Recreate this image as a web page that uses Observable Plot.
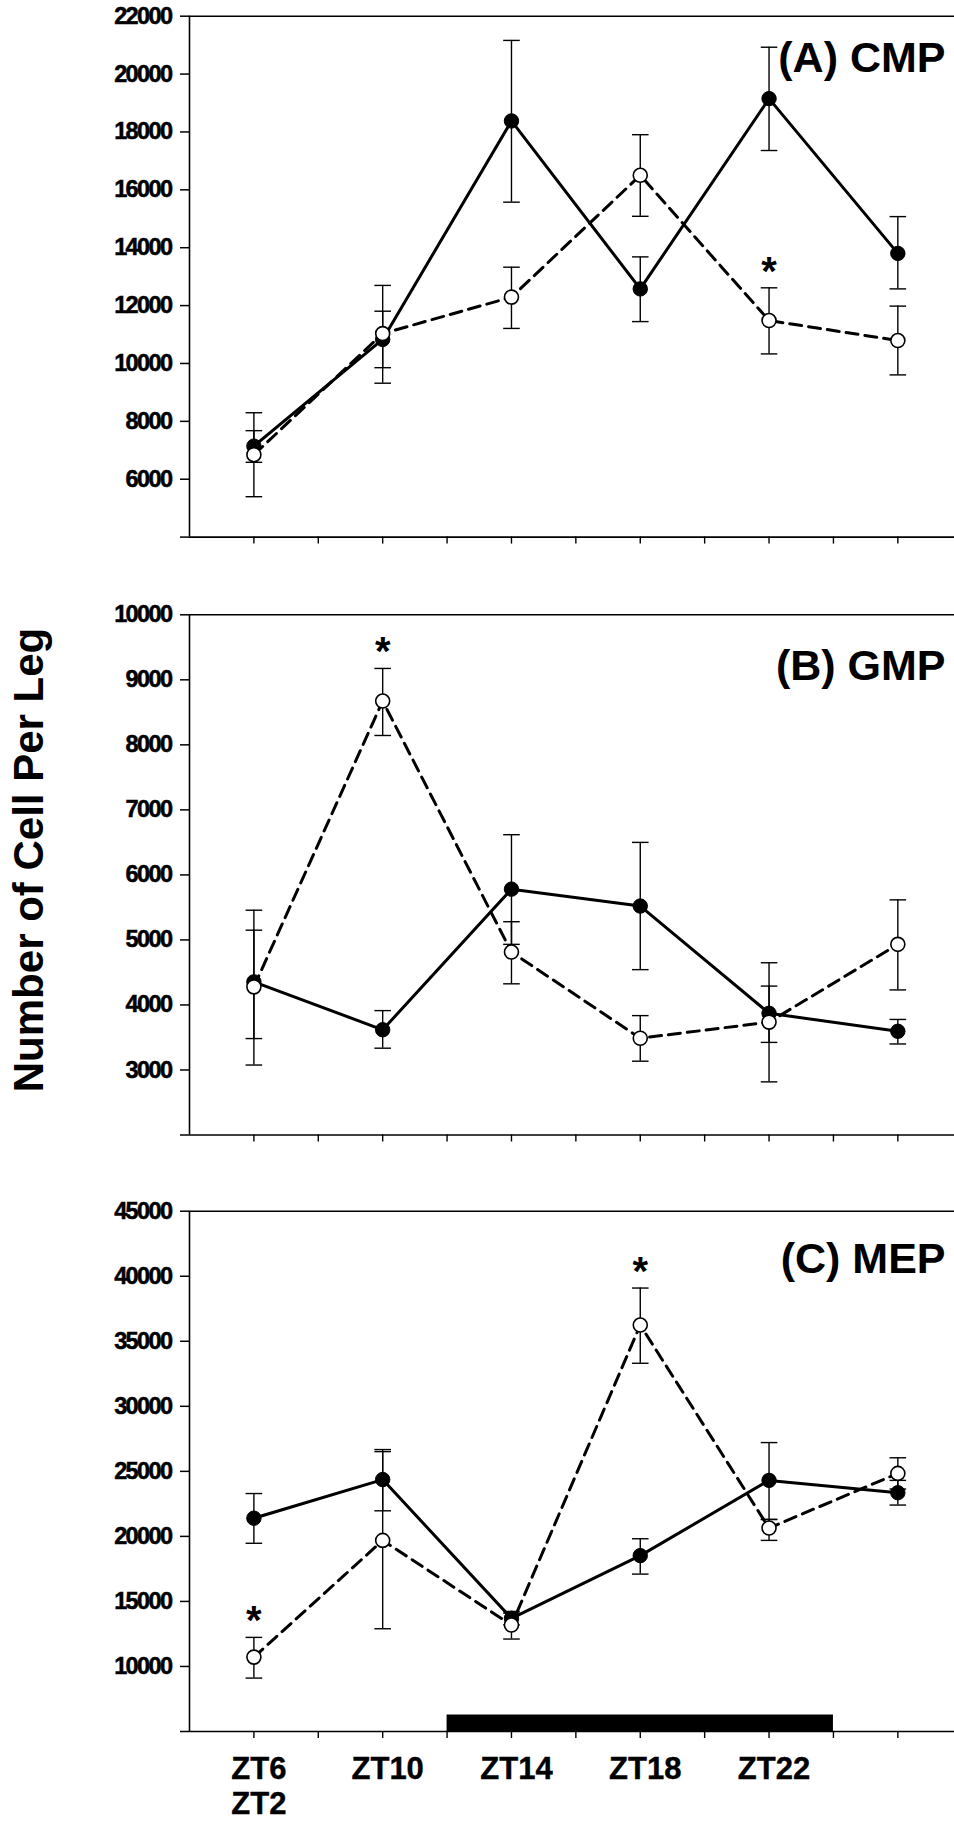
<!DOCTYPE html>
<html>
<head>
<meta charset="utf-8">
<script src="https://cdn.jsdelivr.net/npm/d3@7"></script>
<script src="https://cdn.jsdelivr.net/npm/@observablehq/plot@0.6"></script>
<style>
html, body { margin: 0; padding: 0; background: #fff; }
#chart { position: relative; width: 954px; height: 1824px; overflow: hidden; font-family: "Liberation Sans", Arial, sans-serif; }
#chart svg { display: block; }
#chart [aria-label="y-axis tick label"] text { letter-spacing: -1.6px; stroke: #000; stroke-width: 0.5px; }
#chart [aria-label="x-axis tick label"] text { stroke: #000; stroke-width: 0.4px; }
#ytitle {
  position: absolute; left: 0; top: 0; transform-origin: 0 0;
  transform: translate(7.8px, 860px) rotate(-90deg) translateX(-50%);
  font: bold 42px "Liberation Sans", Arial, sans-serif; line-height: 1;
  white-space: nowrap; color: #000;
}
</style>
</head>
<body>
<div id="chart"><div id="ytitle">Number of Cell Per Leg</div></div>
<script>
// ---- shared x data ----
const hours = [6, 10, 14, 18, 22, 26];
const xTickLabels = ["ZT6\nZT2", "ZT10", "ZT14", "ZT18", "ZT22", ""];
const minorHours = [6, 8, 10, 12, 14, 16, 18, 20, 22, 24, 26];
const xDomain = [4, 27.76];
const darkPeriod = [{start: 12, end: 24}];

// ---- (A) CMP ----
const cmpClosed   = [7144, 10830, 18381, 12577, 19152, 13803];
const cmpClosedLo = [6585, 9854, 15574, 11447, 17359, 12577];
const cmpClosedHi = [7678, 11806, 21163, 13683, 20928, 15075];
const cmpOpen     = [6847, 11032, 12293, 16502, 11484, 10793];
const cmpOpenLo   = [5396, 9318, 11211, 15086, 10330, 9605];
const cmpOpenHi   = [8297, 12697, 13327, 17905, 12614, 11982];
const cmpStars = [4];
const cmpTicks = [4000, 6000, 8000, 10000, 12000, 14000, 16000, 18000, 20000, 22000];

// ---- (B) GMP ----
const gmpClosed   = [4355, 3618, 5781, 5521, 3872, 3595];
const gmpClosedLo = [3483, 3335, 4932, 4543, 3424, 3400];
const gmpClosedHi = [5150, 3913, 6618, 6500, 4290, 3777];
const gmpOpen     = [4278, 8674, 4814, 3488, 3736, 4932];
const gmpOpenLo   = [3076, 8144, 4325, 3135, 2817, 4231];
const gmpOpenHi   = [5457, 9175, 5280, 3836, 4649, 5616];
const gmpStars = [1];
const gmpTicks = [2000, 3000, 4000, 5000, 6000, 7000, 8000, 9000, 10000];

// ---- (C) MEP ----
const mepClosed   = [21398, 24368, 13700, 18523, 24305, 23357];
const mepClosedLo = [19471, 21967, 13200, 17101, 21303, 22409];
const mepClosedHi = [23294, 26675, 14100, 19818, 27212, 24305];
const mepOpen     = [10719, 19692, 13185, 36248, 20640, 24842];
const mepOpenLo   = [9107, 12899, 12108, 33310, 19692, 23641];
const mepOpenHi   = [12235, 26517, 14231, 39092, 21303, 26043];
const mepStars = [0, 3];
const mepTicks = [5000, 10000, 15000, 20000, 25000, 30000, 35000, 40000, 45000];

const cap = {draw(ctx, size) { const r = Math.sqrt(size / Math.PI); ctx.moveTo(-r, 0); ctx.lineTo(r, 0); }};

function panel(cfg) {
  const rows = hours.map((h, i) => ({
    h,
    closed: cfg.closed[i], closedLo: cfg.closedLo[i], closedHi: cfg.closedHi[i],
    open: cfg.open[i], openLo: cfg.openLo[i], openHi: cfg.openHi[i]
  }));
  const y0 = cfg.ticks[0], y1 = cfg.ticks[cfg.ticks.length - 1];
  const marks = [
    Plot.ruleY([y1], {stroke: "black", strokeWidth: 1.6}),
    Plot.ruleY([y0], {stroke: "black", strokeWidth: 1.6}),
    Plot.ruleX([xDomain[0]], {stroke: "black", strokeWidth: 1.6}),
    Plot.axisY({ticks: cfg.ticks, tickSize: 9, tickPadding: 9, fontSize: 23.5, strokeWidth: 1.5,
      tickFormat: d => d === y0 ? "" : String(d), label: null}),
    Plot.axisX({ticks: minorHours, tickSize: 7, tickFormat: () => "", strokeWidth: 1.4, label: null})
  ];
  if (cfg.dark) {
    marks.push(Plot.ruleY(darkPeriod, {y: () => y0, x1: "start", x2: "end", stroke: "black", strokeWidth: 17, dy: -8.5}));
  }
  if (cfg.xLabels) {
    marks.push(Plot.axisX({ticks: hours, tickSize: 0, tickPadding: 22, fontSize: 31, lineHeight: 1.15, dx: 5,
      tickFormat: d => xTickLabels[hours.indexOf(d)], label: null}));
  }
  for (const s of ["closed", "open"]) {
    marks.push(
      Plot.ruleX(rows, {x: "h", y1: s + "Lo", y2: s + "Hi", stroke: "black", strokeWidth: 1.4}),
      Plot.dot(rows, {x: "h", y: s + "Lo", symbol: cap, r: 8.3, stroke: "black", strokeWidth: 1.4, fill: "none"}),
      Plot.dot(rows, {x: "h", y: s + "Hi", symbol: cap, r: 8.3, stroke: "black", strokeWidth: 1.4, fill: "none"})
    );
  }
  marks.push(
    Plot.line(rows, {x: "h", y: "closed", stroke: "black", strokeWidth: 3}),
    Plot.line(rows, {x: "h", y: "open", stroke: "black", strokeWidth: 3, strokeDasharray: "12,7"}),
    Plot.dot(rows, {x: "h", y: "closed", r: 7.2, fill: "black", stroke: "black", strokeWidth: 1}),
    Plot.dot(rows, {x: "h", y: "open", r: 7, fill: "white", stroke: "black", strokeWidth: 1.6}),
    Plot.text(cfg.stars.map(i => rows[i]), {x: "h", y: "openHi", text: () => "*", fontSize: 40,
      fontWeight: "bold", lineAnchor: "middle", dy: -16}),
    Plot.text([cfg.label], {frameAnchor: "top-right", dx: -9, dy: cfg.labelDy, fontSize: 43,
      fontWeight: "bold", lineAnchor: "top"})
  );
  return Plot.plot({
    width: 954, height: cfg.height,
    marginLeft: 189, marginRight: 0, marginTop: cfg.mt, marginBottom: cfg.mb,
    x: {domain: xDomain},
    y: {domain: [y0, y1]},
    style: {fontFamily: '"Liberation Sans", Arial, sans-serif', fontWeight: "bold", background: "white", color: "black", overflow: "visible"},
    marks
  });
}

const chart = document.getElementById("chart");
chart.append(panel({
  closed: cmpClosed, closedLo: cmpClosedLo, closedHi: cmpClosedHi,
  open: cmpOpen, openLo: cmpOpenLo, openHi: cmpOpenHi,
  ticks: cmpTicks, stars: cmpStars, label: "(A) CMP", labelDy: 25,
  height: 600, mt: 15.7, mb: 63.4
}));
chart.append(panel({
  closed: gmpClosed, closedLo: gmpClosedLo, closedHi: gmpClosedHi,
  open: gmpOpen, openLo: gmpOpenLo, openHi: gmpOpenHi,
  ticks: gmpTicks, stars: gmpStars, label: "(B) GMP", labelDy: 35,
  height: 600, mt: 14.3, mb: 65.5
}));
chart.append(panel({
  closed: mepClosed, closedLo: mepClosedLo, closedHi: mepClosedHi,
  open: mepOpen, openLo: mepOpenLo, openHi: mepOpenHi,
  ticks: mepTicks, stars: mepStars, label: "(C) MEP", labelDy: 31,
  height: 624, mt: 10.7, mb: 93, dark: true, xLabels: true
}));
</script>
</body>
</html>
